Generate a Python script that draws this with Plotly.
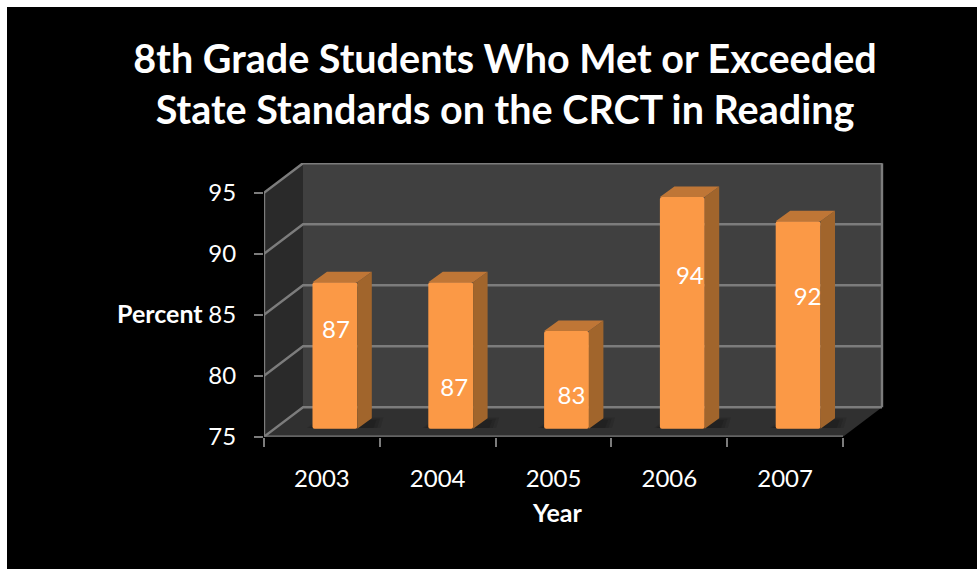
import plotly.graph_objects as go

years = ["2003", "2004", "2005", "2006", "2007"]
percent = [87, 87, 83, 94, 92]
positions = [1, 2, 3, 4, 5]
y_ticks = [75, 80, 85, 90, 95]
x_boundaries = [0.5, 1.5, 2.5, 3.5, 4.5, 5.5]
label_x = [1.009, 2.03, 3.043, 4.065, 5.082]
label_y = [82.95, 78.15, 77.52, 87.33, 85.63]

W, H = 977, 569
X0, X1, Y0, Y1 = 264, 884, 436.7, 163   # plot box in pixels
PX_X, PX_Y = 115.8, 12.2                # pixels per data unit
WALL_DX, WALL_DY = 39 / PX_X, 29.5 / PX_Y
SHIFT_X, SHIFT_Y = 13 / PX_X, 8 / PX_Y
BAR_W = 44.8 / PX_X
BAR_DX, BAR_DY = 14.5 / PX_X, 10.5 / PX_Y
FONT = "Lato"
GRID = "#7c7c7c"

x_range = [0.5, 0.5 + (X1 - X0) / PX_X]
y_range = [75, 75 + (Y0 - Y1) / PX_Y]
x2_range = [x_range[0] - SHIFT_X, x_range[1] - SHIFT_X]
y2_range = [y_range[0] - SHIFT_Y, y_range[1] - SHIFT_Y]


def poly(xs, ys, color, xa="x", ya="y", opacity=1.0):
    return go.Scatter(x=xs, y=ys, mode="lines", fill="toself", fillcolor=color,
                      line=dict(width=0), xaxis=xa, yaxis=ya, opacity=opacity,
                      hoverinfo="skip", showlegend=False)


xl, xr = x_boundaries[0], x_boundaries[-1]
yb, yt = y_ticks[0], y_ticks[-1]
fig = go.Figure()
# walls and floor
fig.add_trace(poly([xl + WALL_DX, xr + WALL_DX, xr + WALL_DX, xl + WALL_DX, xl + WALL_DX],
                   [yb + WALL_DY, yb + WALL_DY, yt + WALL_DY, yt + WALL_DY, yb + WALL_DY], "#404040"))
fig.add_trace(poly([xl, xl + WALL_DX, xl + WALL_DX, xl, xl],
                   [yb, yb + WALL_DY, yt + WALL_DY, yt, yb], "#2a2a2a"))
fig.add_trace(poly([xl, xr, xr + WALL_DX, xl + WALL_DX, xl],
                   [yb, yb, yb + WALL_DY, yb + WALL_DY, yb], "#303030"))
# grid lines, running along the side wall and the back wall
gx, gy = [], []
for v in y_ticks:
    gx += [xl, xl + WALL_DX, xr + WALL_DX, None]
    gy += [v, v + WALL_DY, v + WALL_DY, None]
fig.add_trace(go.Scatter(x=gx, y=gy, mode="lines", line=dict(color=GRID, width=2.4),
                         hoverinfo="skip", showlegend=False))
# frame: front vertical axis, front bottom axis, back right edge
fig.add_trace(go.Scatter(x=[xl, xl, xr, None, xr + WALL_DX, xr + WALL_DX],
                         y=[yt, yb, yb, None, yb + WALL_DY, yt + WALL_DY],
                         mode="lines", line=dict(color=GRID, width=2.4),
                         hoverinfo="skip", showlegend=False))
# soft floor shadows
for grow, op in [(1.0, 0.2), (0.7, 0.3), (0.4, 0.35)]:
    sx, sy = [], []
    for p in positions:
        c = p + SHIFT_X
        a = c - BAR_W / 2 - 0.05 * grow
        b = c + BAR_W / 2 + BAR_DX + 0.1 * grow
        low = yb + SHIFT_Y + 0.05
        high = low + BAR_DY * (0.6 + 0.4 * grow)
        sx += [a, b - BAR_DX * 0.2, b, a + BAR_DX, a, None]
        sy += [low, low, high, high, low, None]
    fig.add_trace(poly(sx, sy, "#191919", opacity=op))

# bars
fig.add_trace(go.Bar(x=positions, y=[v - yb for v in percent], base=yb, width=BAR_W,
                     xaxis="x2", yaxis="y2",
                     marker=dict(color="#fb9946", line=dict(width=0), cornerradius=2),
                     hoverinfo="skip", showlegend=False))
side_x, side_y, top_x, top_y = [], [], [], []
for p, v in zip(positions, percent):
    a, b = p - BAR_W / 2, p + BAR_W / 2
    side_x += [b, b + BAR_DX, b + BAR_DX, b, b, None]
    side_y += [yb, yb + BAR_DY, v + BAR_DY, v, yb, None]
    top_x += [a, a + BAR_DX, b + BAR_DX, b, a, None]
    top_y += [v, v + BAR_DY, v + BAR_DY, v, v, None]
fig.add_trace(poly(side_x, side_y, "#a1652c", "x2", "y2"))
fig.add_trace(poly(top_x, top_y, "#bf7636", "x2", "y2"))
fig.add_trace(go.Scatter(x=label_x, y=label_y, mode="text", text=[str(v) for v in percent],
                         textposition="middle center", xaxis="x2", yaxis="y2",
                         textfont=dict(family=FONT, size=24, color="white"),
                         hoverinfo="skip", showlegend=False))

x_dom = [X0 / W, X1 / W]
y_dom = [1 - Y0 / H, 1 - Y1 / H]
fig.update_layout(
    width=W, height=H, margin=dict(l=0, r=0, t=0, b=0, pad=0), paper_bgcolor="white",
    plot_bgcolor="rgba(0,0,0,0)", showlegend=False, barmode="overlay",
    font=dict(family=FONT, color="white"),
    title=dict(text="<b>8th Grade Students Who Met or Exceeded<br>State Standards on the CRCT in Reading</b>",
               x=505 / W, xanchor="center", y=1 - 73 / H, yanchor="top", automargin=False,
               font=dict(family=FONT, size=39.5, color="white")),
    shapes=[dict(type="rect", xref="paper", yref="paper", x0=7 / W, x1=1, y0=0, y1=1 - 7 / H,
                 fillcolor="black", line=dict(width=0), layer="below")],
    xaxis=dict(domain=x_dom, range=x_range, tickmode="array", tickvals=positions, ticktext=years,
               ticks="", showgrid=False, zeroline=False, showline=False, ticklabelstandoff=25,
               automargin=False, tickfont=dict(family=FONT, size=24, color="white"),
               minor=dict(tickmode="array", tickvals=x_boundaries, ticks="outside", ticklen=9,
                          tickwidth=2, tickcolor=GRID, showgrid=False)),
    yaxis=dict(domain=y_dom, range=y_range, tickmode="array", tickvals=y_ticks,
               ticks="outside", ticklen=9, tickwidth=2, tickcolor=GRID, showgrid=False,
               zeroline=False, showline=False, ticklabelstandoff=13, automargin=False,
               tickfont=dict(family=FONT, size=24, color="white")),
    xaxis2=dict(domain=x_dom, range=x2_range, overlaying="x", anchor="y2", visible=False, automargin=False),
    yaxis2=dict(domain=y_dom, range=y2_range, overlaying="y", anchor="x2", visible=False, automargin=False),
    annotations=[
        dict(text="<b>Year</b>", xref="paper", yref="paper", x=557 / W, y=1 - 512 / H, showarrow=False,
             xanchor="center", yanchor="middle", font=dict(family=FONT, size=25, color="white")),
        dict(text="<b>Percent</b>", xref="paper", yref="paper", x=160 / W, y=1 - 313 / H, showarrow=False,
             xanchor="center", yanchor="middle", font=dict(family=FONT, size=25, color="white")),
    ],
)
fig.write_html("out.html", default_width=f"{W}px", default_height=f"{H}px",
               config={"displayModeBar": False},
               post_script="document.body.style.margin='0';")
